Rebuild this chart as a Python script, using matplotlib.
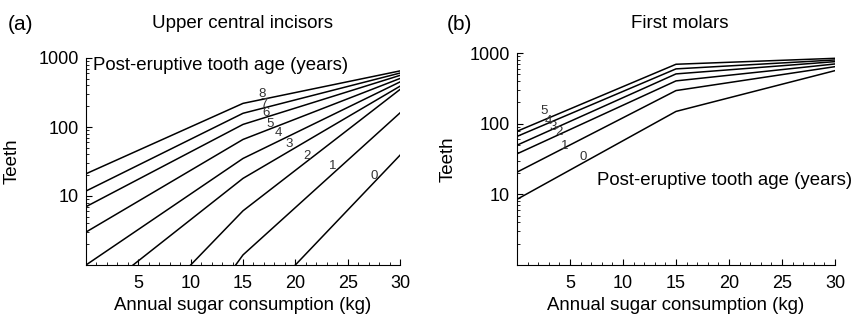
import matplotlib
matplotlib.use("Agg")
import matplotlib.pyplot as plt
from matplotlib.ticker import MultipleLocator, LogLocator, NullFormatter

plt.rcParams["font.family"] = ["Liberation Sans", "DejaVu Sans"]

# (a) upper central incisors: each curve is (x points, teeth values)
incisor_ages = [8, 7, 6, 5, 4, 3, 2, 1, 0]
incisor_x = [
    [0, 15, 30],
    [0, 15, 30],
    [0, 15, 30],
    [0, 15, 30],
    [0, 15, 30],
    [4.5, 15, 30],
    [10, 15, 30],
    [14.3, 15, 30],
    [20, 30],
]
incisor_y = [
    [21, 220, 650],
    [11.8, 158, 605],
    [7, 109, 560],
    [3.0, 66, 505],
    [1.0, 35, 450],
    [1, 18, 390],
    [1, 6.1, 350],
    [1, 1.4, 160],
    [1, 39],
]
incisor_label_x = [16.8, 17.0, 17.2, 17.6, 18.4, 19.4, 21.1, 23.6, 27.5]
incisor_label_y = [300, 215, 158, 110, 81, 57, 38, 27, 19.7]

# (b) first molars
molar_ages = [0, 1, 2, 3, 4, 5]
molar_x = [0, 15, 30]
molar_y = [
    [8.5, 149, 563],
    [20.6, 294, 641],
    [37.4, 403, 700],
    [49.6, 506, 755],
    [66, 596, 797],
    [78, 693, 841],
]
molar_label_x = [6.2, 4.46, 4.0, 3.43, 2.99, 2.55]
molar_label_y = [34, 49, 75, 90, 110, 152]

fig = plt.figure(figsize=(8.53, 3.16), dpi=100)
ax1 = fig.add_axes([86 / 853, 51 / 316, 314 / 853, 207 / 316])
ax2 = fig.add_axes([517 / 853, 51 / 316, 318 / 853, 212 / 316])


def style(ax, ylab_x):
    ax.set_yscale("log")
    ax.set_xlim(0, 30)
    ax.set_ylim(1, 1000)
    ax.spines["top"].set_visible(False)
    ax.spines["right"].set_visible(False)
    ax.set_xticks([5, 10, 15, 20, 25, 30])
    ax.xaxis.set_minor_locator(MultipleLocator(1))
    ax.set_yticks([10, 100, 1000])
    ax.set_yticklabels(["10", "100", "1000"])
    ax.yaxis.set_minor_locator(LogLocator(base=10, subs=range(2, 10)))
    ax.yaxis.set_minor_formatter(NullFormatter())
    ax.tick_params(which="major", direction="in", length=4, width=0.8, labelsize=13)
    ax.tick_params(which="minor", direction="in", length=2.5, width=0.6)
    ax.tick_params(axis="x", pad=7)
    ax.tick_params(axis="y", pad=5)
    ax.set_xlabel("Annual sugar consumption (kg)", fontsize=13.4, labelpad=4)
    ax.set_ylabel("Teeth", fontsize=13.5)
    ax.yaxis.set_label_coords(ylab_x, 0.5)


for xs, ys in zip(incisor_x, incisor_y):
    ax1.plot(xs, ys, color="black", lw=1.1)
for age, lx, ly in zip(incisor_ages, incisor_label_x, incisor_label_y):
    ax1.text(lx, ly, str(age), fontsize=9.5, color="#333333", ha="center", va="center")
ax1.text(0.022, 0.966, "Post-eruptive tooth age (years)", transform=ax1.transAxes,
         fontsize=13.4, ha="left", va="center")
style(ax1, -0.207)

for ys in molar_y:
    ax2.plot(molar_x, ys, color="black", lw=1.1)
for age, lx, ly in zip(molar_ages, molar_label_x, molar_label_y):
    ax2.text(lx, ly, str(age), fontsize=9.5, color="#333333", ha="center", va="center")
ax2.text(0.252, 0.40, "Post-eruptive tooth age (years)", transform=ax2.transAxes,
         fontsize=13.4, ha="left", va="center", clip_on=False)
style(ax2, -0.189)

fig.text(243 / 853, 1 - 24 / 316, "Upper central incisors", fontsize=13.5, ha="center", va="center")
fig.text(680 / 853, 1 - 24 / 316, "First molars", fontsize=13.5, ha="center", va="center")
fig.text(8 / 853, 1 - 24 / 316, "(a)", fontsize=15, ha="left", va="center")
fig.text(447 / 853, 1 - 24 / 316, "(b)", fontsize=15, ha="left", va="center")

fig.savefig("out.png", dpi=100)
